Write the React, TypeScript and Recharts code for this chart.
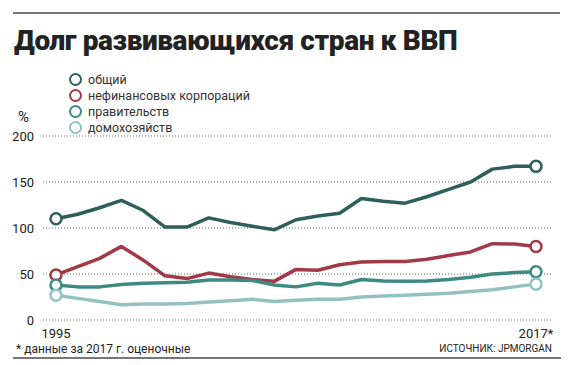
import React from 'react';
import { LineChart, Line, XAxis, YAxis, CartesianGrid } from 'recharts';

const years = [
  1995, 1996, 1997, 1998, 1999, 2000, 2001, 2002, 2003, 2004, 2005, 2006,
  2007, 2008, 2009, 2010, 2011, 2012, 2013, 2014, 2015, 2016, 2017,
];
const total = [110, 115, 122, 130, 119, 101, 101, 111, 106, 102, 98, 109, 113, 116, 132, 129, 127, 134, 142, 150, 164, 167, 167];
const corporate = [49, 58, 67, 80, 65, 48, 45, 51, 47, 44, 42, 55, 54, 60, 63, 63.5, 63.5, 66, 70, 74, 83, 82.5, 80];
const government = [38, 36, 36, 38.5, 40, 40.5, 41, 43.5, 43.5, 43, 38, 36, 40, 38, 44, 42.5, 42, 42.5, 44, 46.5, 50, 51.5, 52.5];
const households = [27, 23.5, 20, 16.5, 17.5, 17.5, 18, 19.5, 21, 22.5, 20, 21.5, 22.5, 22.5, 25, 26, 27, 28, 29, 31, 33, 36, 39];
const yTicks = [0, 50, 100, 150, 200];

const series = [
  { key: 'total', name: 'общий', color: '#2f5f5a' },
  { key: 'corporate', name: 'нефинансовых корпораций', color: '#a03a48' },
  { key: 'government', name: 'правительств', color: '#3d8a82' },
  { key: 'households', name: 'домохозяйств', color: '#93c2be' },
];

const data = years.map((year, i) => ({
  year,
  total: total[i],
  corporate: corporate[i],
  government: government[i],
  households: households[i],
}));

const font = 'Roboto, "Noto Sans", sans-serif';

const endDot = (color: string) => (props: any) => {
  const { cx, cy, index } = props;
  if (index !== 0 && index !== years.length - 1) return <g key={`d${index}`} />;
  return (
    <circle key={`d${index}`} cx={cx} cy={cy} r={5.5} fill="#fff" stroke={color} strokeWidth={2.5} />
  );
};

const XTick = (props: any) => {
  const { x, y, payload } = props;
  const label = payload.value === 2017 ? '2017*' : String(payload.value);
  return (
    <text x={x} y={y + 10} textAnchor="middle" fontSize={13} fill="#222" fontFamily={font}>
      {label}
    </text>
  );
};

export default function App() {
  return (
    <div style={{ position: 'absolute', left: 0, top: 0, width: 570, height: 365, background: '#fff', fontFamily: font }}>
      <div style={{ position: 'absolute', left: 13, top: 12, width: 547, height: 2, background: '#777' }} />
      <div style={{ position: 'absolute', left: 14, top: 24, fontSize: 28, fontWeight: 900, color: '#222', letterSpacing: -0.4, whiteSpace: 'nowrap' }}>
        Долг развивающихся стран к ВВП
      </div>
      <div style={{ position: 'absolute', left: 69, top: 71 }}>
        {series.map((s) => (
          <div key={s.key} style={{ display: 'flex', alignItems: 'center', height: 16, fontSize: 12.5, color: '#333' }}>
            <span style={{ width: 9, height: 9, borderRadius: '50%', border: `2.5px solid ${s.color}`, marginRight: 6 }} />
            {s.name}
          </div>
        ))}
      </div>
      <div style={{ position: 'absolute', left: 18, top: 108, fontSize: 15, color: '#222' }}>%</div>
      <div style={{ position: 'absolute', left: 0, top: 0 }}>
        <LineChart width={570} height={365} data={data} margin={{ top: 136, right: 17, bottom: 0, left: 0 }}>
          <CartesianGrid horizontal vertical={false} stroke="#666" strokeDasharray="1 2" />
          <XAxis
            dataKey="year"
            type="number"
            domain={[1995, 2017]}
            ticks={[1995, 2017]}
            padding={{ left: 13, right: 17 }}
            axisLine={false}
            tickLine={false}
            height={45}
            tick={<XTick />}
          />
          <YAxis
            domain={[0, 200]}
            ticks={yTicks}
            width={43}
            axisLine={false}
            tickLine={false}
            tickMargin={3}
            tick={{ fontSize: 13, fill: '#222', fontFamily: font }}
          />
          {series.map((s) => (
            <Line
              key={s.key}
              type="linear"
              dataKey={s.key}
              stroke={s.color}
              strokeWidth={3.5}
              strokeLinejoin="round"
              dot={endDot(s.color)}
              activeDot={false}
              isAnimationActive={false}
            />
          ))}
        </LineChart>
      </div>
      <div style={{ position: 'absolute', left: 16, top: 342, fontSize: 12, color: '#222' }}>* данные за 2017 г. оценочные</div>
      <div style={{ position: 'absolute', right: 18, top: 343, fontSize: 10, color: '#222' }}>ИСТОЧНИК: JPMORGAN</div>
      <div style={{ position: 'absolute', left: 13, top: 357, width: 548, height: 2, background: '#777' }} />
    </div>
  );
}
